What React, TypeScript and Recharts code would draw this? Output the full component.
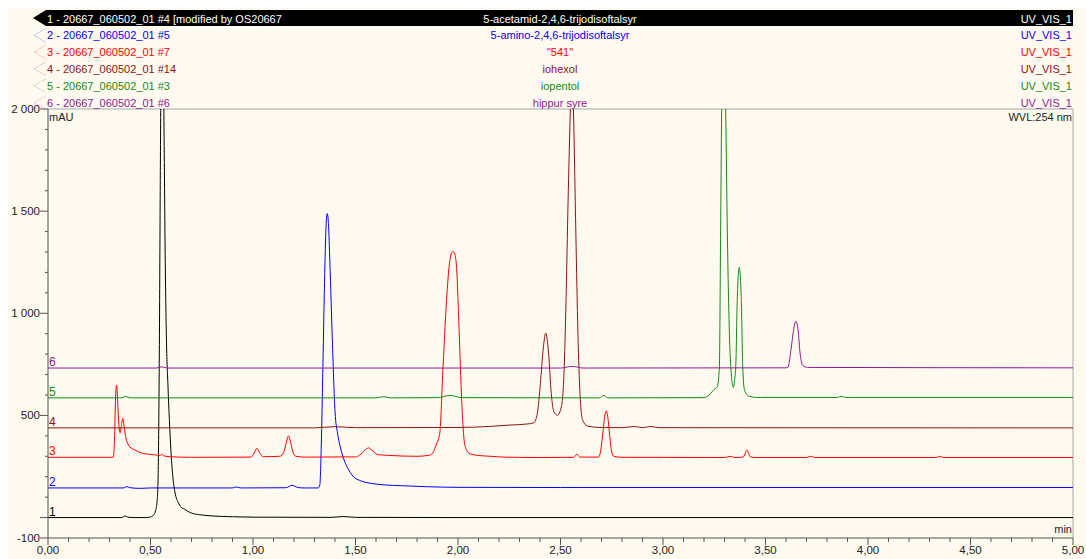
import React from "react";
import { LineChart, Line, XAxis, YAxis, ReferenceLine, ReferenceDot } from "recharts";

const BG = "#FFFAF0";
const FONT = "'Liberation Sans', Arial, sans-serif";

const W = 1078;
const H = 551;
const PLOT_LEFT = 40;
const PLOT_RIGHT = 1065;
const PLOT_TOP = 101;
const PLOT_BOTTOM = 530;

// header rows: label, sample name, channel
const ROW_IDS = [
  "1 - 20667_060502_01 #4 [modified by OS20667",
  "2 - 20667_060502_01 #5",
  "3 - 20667_060502_01 #7",
  "4 - 20667_060502_01 #14",
  "5 - 20667_060502_01 #3",
  "6 - 20667_060502_01 #6",
];
const ROW_NAMES = [
  "5-acetamid-2,4,6-trijodisoftalsyr",
  "5-amino-2,4,6-trijodisoftalsyr",
  "\"541\"",
  "iohexol",
  "iopentol",
  "hippur syre",
];
const ROW_CHANNEL = "UV_VIS_1";
const COLORS = ["#000000", "#0000FF", "#FF0000", "#8B1414", "#138A13", "#8E1A8E"];
const BASELINES = [0, 145, 295, 439, 586, 732];

const Y_TICKS = [
  -100, 0, 100, 200, 300, 400, 500, 600, 700, 800, 900, 1000, 1100, 1200, 1300,
  1400, 1500, 1600, 1700, 1800, 1900, 2000,
];
const Y_LABELS: Record<number, string> = {
  2000: "2 000",
  1500: "1 500",
  1000: "1 000",
  500: "500",
  [-100]: "-100",
};
const X_TICKS = Array.from({ length: 51 }, (_, i) => i / 10);
const X_LABELS: Record<string, string> = {
  "0": "0,00",
  "0.5": "0,50",
  "1": "1,00",
  "1.5": "1,50",
  "2": "2,00",
  "2.5": "2,50",
  "3": "3,00",
  "3.5": "3,50",
  "4": "4,00",
  "4.5": "4,50",
  "5": "5,00",
};

// [time (min), signal (mAU)]
const TRACE_1: [number, number][] = [
  [0, 0], [0.36, 0], [0.375, 8], [0.39, 2], [0.42, 0], [0.48, 0], [0.5, 3],
  [0.515, 12], [0.525, 35], [0.533, 90], [0.538, 250], [0.543, 800], [0.548, 1700],
  [0.554, 2500], [0.56, 2450], [0.566, 1900], [0.572, 1250], [0.578, 860],
  [0.585, 650], [0.592, 480], [0.6, 320], [0.61, 190], [0.62, 120], [0.635, 75],
  [0.65, 50], [0.665, 42], [0.68, 32], [0.7, 22], [0.74, 14], [0.8, 8], [0.9, 4],
  [1.0, 2], [1.38, 1], [1.44, 5], [1.5, 1], [2.0, 0], [5.0, 0],
];
const TRACE_2: [number, number][] = [
  [0, 145], [0.37, 145], [0.385, 152], [0.4, 146], [0.45, 143], [0.5, 145],
  [0.9, 145], [0.918, 150], [0.94, 145], [1.16, 146], [1.19, 158], [1.22, 147],
  [1.25, 145], [1.318, 145], [1.326, 160], [1.333, 350], [1.341, 740], [1.35, 1200],
  [1.357, 1440], [1.362, 1488], [1.368, 1440], [1.375, 1250], [1.387, 870],
  [1.4, 520], [1.413, 410], [1.426, 345], [1.44, 295], [1.458, 250], [1.475, 220],
  [1.49, 200], [1.52, 182], [1.556, 171], [1.6, 164], [1.64, 160], [1.72, 156],
  [1.85, 151], [2.0, 148], [2.5, 147], [5.0, 147],
];
const TRACE_3: [number, number][] = [
  [0, 295], [0.318, 295], [0.325, 400], [0.33, 600], [0.335, 648], [0.34, 560],
  [0.347, 440], [0.352, 415], [0.358, 450], [0.365, 485], [0.372, 440], [0.381, 385],
  [0.39, 360], [0.4, 345], [0.425, 331], [0.449, 318], [0.482, 311], [0.52, 307],
  [0.547, 304], [0.555, 310], [0.565, 302], [0.596, 298], [0.7, 295], [0.99, 296],
  [1.005, 315], [1.019, 339], [1.033, 315], [1.05, 298], [1.13, 300], [1.15, 320],
  [1.163, 370], [1.173, 400], [1.183, 370], [1.195, 320], [1.21, 300], [1.25, 296],
  [1.5, 297], [1.52, 305], [1.545, 330], [1.564, 341], [1.585, 325], [1.61, 308],
  [1.65, 305], [1.8, 300], [1.86, 305], [1.88, 322], [1.895, 360], [1.911, 412],
  [1.927, 737], [1.944, 1062], [1.96, 1257], [1.974, 1303], [1.984, 1290],
  [1.993, 1225], [2.006, 900], [2.018, 575], [2.032, 363], [2.045, 325], [2.061, 311],
  [2.1, 304], [2.16, 300], [2.22, 296], [2.4, 294], [2.565, 295], [2.58, 310],
  [2.595, 296], [2.685, 296], [2.695, 320], [2.705, 400], [2.715, 490], [2.723, 522],
  [2.731, 490], [2.74, 400], [2.75, 320], [2.76, 300], [2.8, 295], [3.3, 294],
  [3.33, 300], [3.35, 294], [3.39, 296], [3.41, 330], [3.425, 298], [3.45, 294],
  [3.7, 294], [3.72, 300], [3.74, 294], [4.33, 294], [4.35, 299], [4.37, 294],
  [5.0, 294],
];
const TRACE_4: [number, number][] = [
  [0, 439], [1.3, 439], [1.4, 445], [1.5, 440], [2.0, 441], [2.15, 446],
  [2.256, 453], [2.337, 458], [2.37, 464], [2.387, 510], [2.402, 656], [2.415, 818],
  [2.428, 903], [2.442, 802], [2.455, 607], [2.468, 518], [2.485, 501], [2.504, 542],
  [2.517, 705], [2.527, 1062], [2.537, 1550], [2.547, 1960], [2.555, 2250],
  [2.563, 2000], [2.575, 1388], [2.585, 900], [2.595, 607], [2.608, 477],
  [2.631, 448], [2.69, 441], [2.8, 440], [2.86, 446], [2.9, 440], [2.94, 446],
  [2.98, 440], [5.0, 439],
];
const TRACE_5: [number, number][] = [
  [0, 586], [0.36, 586], [0.38, 593], [0.4, 586], [1.6, 586], [1.637, 592],
  [1.67, 586], [1.9, 587], [1.963, 598], [2.02, 587], [2.69, 586], [2.712, 598],
  [2.73, 586], [3.2, 587], [3.232, 607], [3.249, 627], [3.265, 640], [3.275, 737],
  [3.281, 1388], [3.286, 1989], [3.296, 2500], [3.306, 1989], [3.314, 1388],
  [3.324, 900], [3.333, 705], [3.343, 637], [3.35, 680], [3.356, 770], [3.362, 1062],
  [3.372, 1225], [3.382, 1062], [3.389, 737], [3.398, 623], [3.419, 594],
  [3.46, 588], [3.85, 588], [3.87, 594], [3.89, 588], [5.0, 588],
];
const TRACE_6: [number, number][] = [
  [0, 732], [0.53, 732], [0.555, 738], [0.58, 732], [2.5, 732], [2.557, 740],
  [2.61, 732], [3.6, 733], [3.61, 737], [3.626, 835], [3.639, 932], [3.649, 961],
  [3.659, 916], [3.669, 802], [3.682, 745], [3.705, 735], [5.0, 733],
];

const TRACES = [TRACE_1, TRACE_2, TRACE_3, TRACE_4, TRACE_5, TRACE_6];

function YTick(props: any) {
  const { y, payload } = props;
  const v = payload.value as number;
  const label = Y_LABELS[v];
  const major = label !== undefined || v === 0;
  const len = major ? 8 : 3;
  return (
    <g>
      <line x1={PLOT_LEFT - len} x2={PLOT_LEFT} y1={y} y2={y} stroke="#555" />
      {label && (
        <text x={PLOT_LEFT - 8} y={y + 4} textAnchor="end" fontSize={11.5} fill="#222" fontFamily={FONT}>
          {label}
        </text>
      )}
    </g>
  );
}

function XTick(props: any) {
  const { x, payload } = props;
  const key = String(Math.round(payload.value * 10) / 10);
  const label = X_LABELS[key];
  const len = label ? 7 : 4;
  return (
    <g>
      <line x1={x} x2={x} y1={PLOT_BOTTOM} y2={PLOT_BOTTOM + len} stroke="#555" />
      {label && (
        <text x={x} y={PLOT_BOTTOM + 16} textAnchor="middle" fontSize={11.5} fill="#222" fontFamily={FONT}>
          {label}
        </text>
      )}
    </g>
  );
}

function Header() {
  const rowY = (i: number) => 10.5 + i * 16.8;
  return (
    <svg width={W} height={PLOT_TOP + 14} style={{ position: "absolute", left: 0, top: 0, pointerEvents: "none" }}>
      <rect x={38} y={2} width={PLOT_RIGHT - 38} height={16} fill="#000" />
      <polygon points="25,10 38,2 38,18" fill="#000" />
      {ROW_IDS.map((id, i) => {
        const cy = rowY(i);
        const color = i === 0 ? "#fff" : COLORS[i];
        return (
          <g key={id} fontFamily={FONT} fontSize={11}>
            {i > 0 && (
              <polyline
                points={`38,${cy - 7} 26,${cy} 38,${cy + 7}`}
                fill="none"
                stroke={COLORS[i]}
                strokeOpacity={0.2}
              />
            )}
            <text x={39} y={cy + 4} fill={color}>{id}</text>
            <text x={552} y={cy + 4} fill={color} textAnchor="middle">{ROW_NAMES[i]}</text>
            <text x={PLOT_RIGHT - 1} y={cy + 4} fill={color} textAnchor="end">{ROW_CHANNEL}</text>
          </g>
        );
      })}
      <text x={PLOT_LEFT + 1} y={PLOT_TOP + 12} fontFamily={FONT} fontSize={11} fill="#222">mAU</text>
      <text x={PLOT_RIGHT - 1} y={PLOT_TOP + 12} fontFamily={FONT} fontSize={11} fill="#222" textAnchor="end">
        WVL:254 nm
      </text>
    </svg>
  );
}

export default function App() {
  return (
    <div style={{ position: "relative", width: W, height: H, background: BG }}>
      <style>{"html, body { overflow: hidden; } body { margin: 8px 0 0 8px; } .recharts-surface { overflow: visible; }"}</style>
      <LineChart
        width={W}
        height={H}
        margin={{ top: PLOT_TOP, right: W - PLOT_RIGHT, bottom: 0, left: 0 }}
        style={{ position: "absolute", left: 0, top: 0 }}
      >
        <XAxis
          type="number"
          dataKey="t"
          domain={[0, 5]}
          ticks={X_TICKS}
          interval={0}
          height={H - PLOT_BOTTOM}
          tick={<XTick />}
          tickLine={false}
          axisLine={{ stroke: "#555" }}
          allowDataOverflow
        />
        <YAxis
          type="number"
          domain={[-100, 2000]}
          ticks={Y_TICKS}
          interval={0}
          width={PLOT_LEFT}
          tick={<YTick />}
          tickLine={false}
          axisLine={{ stroke: "#555" }}
          allowDataOverflow
        />
        <ReferenceLine y={2000} stroke="#a8a8a8" />
        <ReferenceLine x={5} stroke="#a8a8a8" />
        {TRACES.map((tr, i) => (
          <Line
            key={`trace-${i}`}
            data={tr.map(([t, v]) => ({ t, v }))}
            dataKey="v"
            type="monotone"
            stroke={COLORS[i]}
            strokeWidth={1}
            dot={false}
            isAnimationActive={false}
          />
        ))}
        {BASELINES.map((b, i) => (
          <ReferenceDot
            key={`lbl-${i}`}
            x={0}
            y={b}
            r={0}
            shape={(p: any) => (
              <text x={p.cx + 1} y={p.cy - 2} fontFamily={FONT} fontSize={12} fill={COLORS[i]}>
                {i + 1}
              </text>
            )}
          />
        ))}
      </LineChart>
      <Header />
      <svg width={W} height={H} style={{ position: "absolute", left: 0, top: 0, pointerEvents: "none" }}>
        <text x={PLOT_RIGHT - 1} y={PLOT_BOTTOM - 5} fontFamily={FONT} fontSize={11} fill="#222" textAnchor="end">
          min
        </text>
      </svg>
    </div>
  );
}
